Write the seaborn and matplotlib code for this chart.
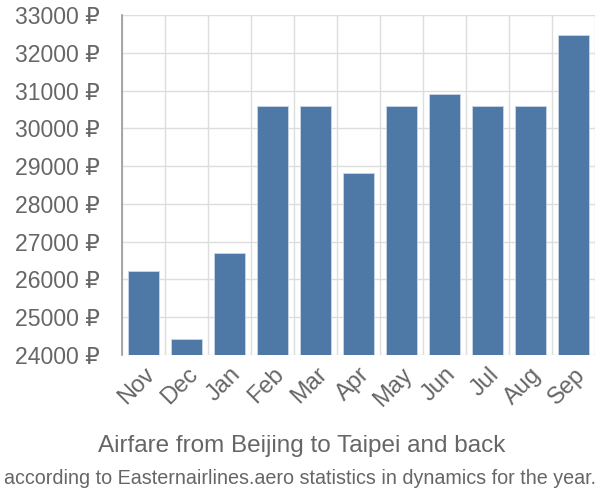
import matplotlib
matplotlib.use("Agg")
import matplotlib.pyplot as plt
import matplotlib.ticker as mticker
import numpy as np
import pandas as pd
import seaborn as sns

months = ["Nov", "Dec", "Jan", "Feb", "Mar", "Apr", "May", "Jun", "Jul", "Aug", "Sep"]
prices = [26220, 24420, 26700, 30600, 30600, 28830, 30600, 30900, 30600, 30600, 32480]
y_ticks = [24000, 25000, 26000, 27000, 28000, 29000, 30000, 31000, 32000, 33000]

df = pd.DataFrame({"month": months, "price": prices})

sns.set_style("white")
plt.rcParams["font.family"] = ["Liberation Sans", "DejaVu Sans"]

fig = plt.figure(figsize=(6, 5), dpi=100)
ax = fig.add_axes([0.203, 0.29, 0.789, 0.68])

sns.barplot(data=df, x="month", y="price", color="#4e79a7", saturation=1,
            width=0.72, edgecolor="#c9d6e6", linewidth=0.6, ax=ax, zorder=3)

ax.set_ylim(24000, 33000)
ax.set_xlim(-0.5, len(months) - 0.5)
ax.set_yticks(y_ticks)
ax.yaxis.set_major_formatter(mticker.FuncFormatter(lambda v, p: f"{int(v)} ₽"))

# gridlines between categories
ax.set_xticks(np.arange(-0.5, len(months), 1.0), minor=True)
ax.grid(True, which="minor", axis="x", color="#dddddd", linewidth=1, zorder=0)
ax.grid(True, which="major", axis="y", color="#dddddd", linewidth=1, zorder=0)
ax.tick_params(axis="x", which="major", length=0, labelsize=17, labelcolor="#666666", pad=6)
ax.tick_params(axis="x", which="minor", length=15, color="#dddddd", width=1)
ax.tick_params(axis="y", which="major", length=15, color="#dddddd", width=1,
               labelsize=16.6, labelcolor="#666666", pad=1)
for lab in ax.get_xticklabels():
    lab.set_rotation(45)
    lab.set_ha("right")
    lab.set_rotation_mode("anchor")

for s in ["top", "right", "bottom"]:
    ax.spines[s].set_visible(False)
ax.spines["left"].set_color("#999999")
ax.spines["left"].set_linewidth(1.2)
ax.set_xlabel("")
ax.set_ylabel("")

fig.text(0.502, 0.108, "Airfare from Beijing to Taipei and back", ha="center", va="center",
         fontsize=17.5, color="#666666")
fig.text(0.5, 0.044, "according to Easternairlines.aero statistics in dynamics for the year.",
         ha="center", va="center", fontsize=14.2, color="#666666")

fig.savefig("out.png", dpi=100)
